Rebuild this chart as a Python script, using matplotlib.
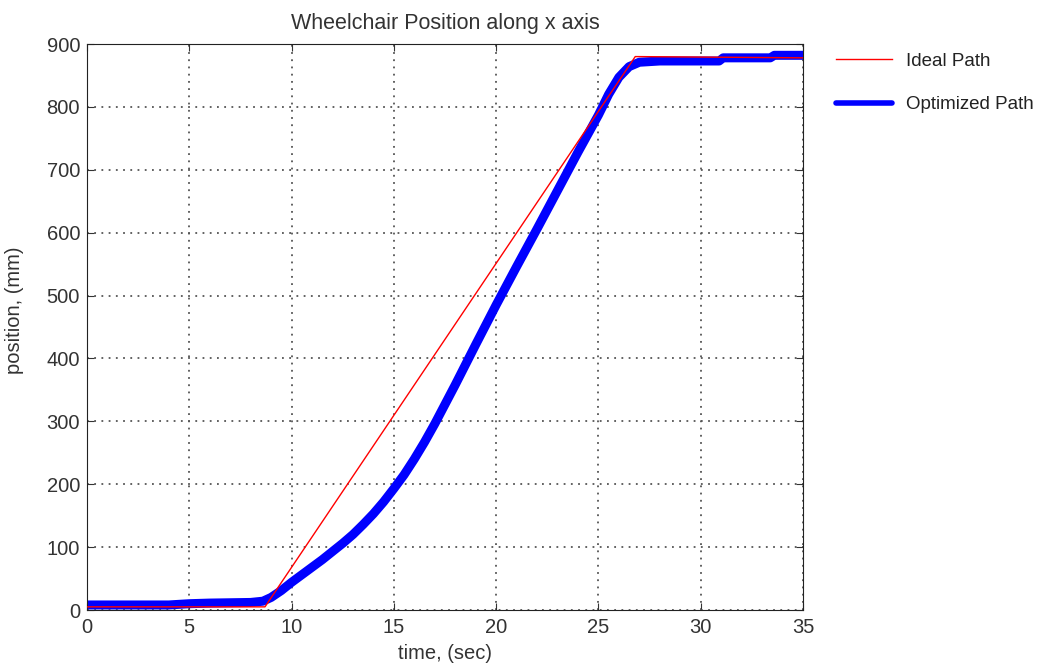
import matplotlib
matplotlib.use("Agg")
import matplotlib.pyplot as plt
from matplotlib.lines import Line2D

plt.rcParams['font.family'] = ['Liberation Sans', 'DejaVu Sans']

# Ideal path
ideal_t = [0, 8.7, 26.8, 35]
ideal_pos = [5, 5, 880, 878]

# Optimized path
opt_t = [0, 2, 4, 5, 6, 8, 8.6, 9, 9.5, 10, 10.5, 11, 11.5, 12, 12.5, 13, 13.5,
         14, 14.5, 15, 15.5, 16, 16.5, 17, 17.5, 18, 18.5, 19, 20, 21, 22, 23,
         24, 25, 25.5, 26, 26.5, 27, 28, 30.9, 31.1, 33.4, 33.6, 35]
opt_pos = [8, 8, 8, 10, 11, 12, 14, 20, 31, 44, 56, 68, 80, 93, 106, 120, 136,
           153, 172, 193, 215, 240, 267, 296, 327, 358, 390, 422, 485, 546, 606,
           667, 728, 787, 820, 847, 864, 871, 873, 873, 878, 878, 882, 882]

xticks = [0, 5, 10, 15, 20, 25, 30, 35]
yticks = [0, 100, 200, 300, 400, 500, 600, 700, 800, 900]

fig = plt.figure(figsize=(10.4, 6.68), dpi=100)
ax = fig.add_axes([87/1040, 58/668, (803-87)/1040, (610-44)/668])

ax.plot(opt_t, opt_pos, color='#0000ff', lw=6.5, solid_capstyle='butt',
        solid_joinstyle='round', zorder=2)
ax.plot(ideal_t, ideal_pos, color='#ff0000', lw=1, zorder=3)

ax.set_xlim(0, 35)
ax.set_ylim(0, 900)
ax.set_xticks(xticks)
ax.set_yticks(yticks)
ax.grid(True, linestyle=(0, (1, 3)), color='#555555', lw=1.3)
ax.tick_params(direction='in', length=5, labelsize=14.5, colors='#333333',
               top=True, right=True, pad=5)
ax.tick_params(axis='x', pad=6)
for s in ax.spines.values():
    s.set_color('#222222')
ax.set_xlabel('time, (sec)', fontsize=14.5, color='#333333', labelpad=5)
ax.set_ylabel('position, (mm)', fontsize=14.5, color='#333333', labelpad=6)
ax.yaxis.set_label_coords(-0.088, 0.53)
ax.set_title('Wheelchair Position along x axis', fontsize=15.5, color='#333333', pad=11)

handles = [Line2D([], [], color='#ff0000', lw=1),
           Line2D([], [], color='#0000ff', lw=4, solid_capstyle='round')]
labels = ['Ideal Path', 'Optimized Path']
leg = fig.legend(handles, labels,
                 loc='upper left', bbox_to_anchor=(819/1040, 1 - 36/668),
                 frameon=False, fontsize=13.5, labelspacing=1.4, handlelength=3.0,
                 handletextpad=0.75)
for t in leg.get_texts():
    t.set_color('#222222')

fig.savefig('out.png', dpi=100)
